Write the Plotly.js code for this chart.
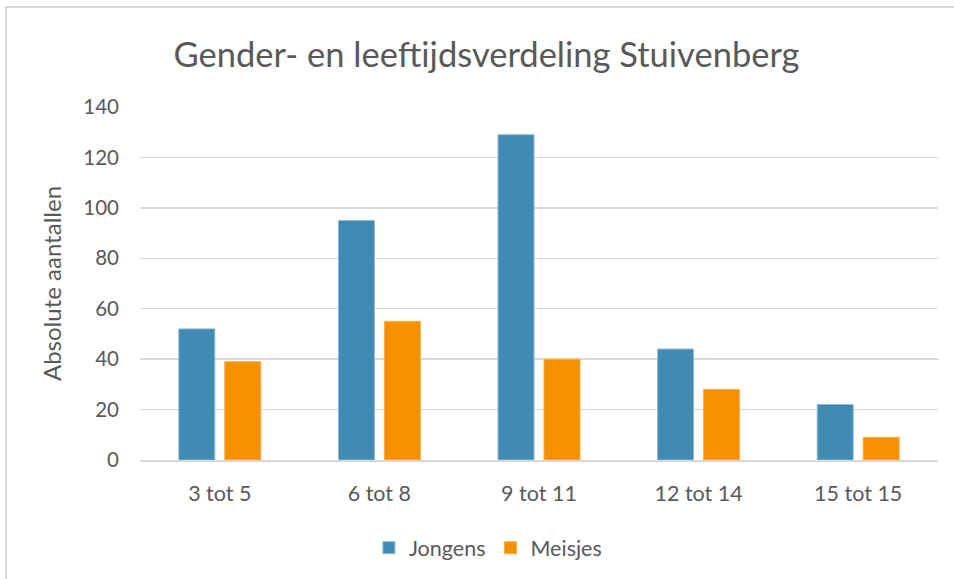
<!DOCTYPE html>
<html><head><meta charset="utf-8">
<script src="https://cdn.plot.ly/plotly-3.0.1.min.js"></script>
<style>html,body{margin:0;padding:0;background:#fff;}#frame{position:absolute;left:5px;top:6px;width:960px;height:600px;border-top:2px solid #d9d9d9;border-left:2px solid #d9d9d9;pointer-events:none;z-index:5;}#chart{width:954px;height:579px;}</style>
</head><body>
<div id="chart"></div><div id="frame"></div>
<script>
const categories = ["3 tot 5", "6 tot 8", "9 tot 11", "12 tot 14", "15 tot 15"];
const jongens = [52, 95, 129, 44, 22];
const meisjes = [39, 55, 40, 28, 9];
const yTicks = [0, 20, 40, 60, 80, 100, 120, 140];

const font = "Lato, 'Open Sans', sans-serif";
const data = [
  {type: "bar", name: "Jongens", x: categories, y: jongens, marker: {color: "#418AB3", line: {color: "#8fb8d3", width: 1}}, hoverinfo: "y"},
  {type: "bar", name: "Meisjes", x: categories, y: meisjes, marker: {color: "#F59100", line: {color: "#f8b04a", width: 1}}, hoverinfo: "y"}
];
const layout = {
  width: 954, height: 579,
  margin: {l: 140, r: 16, t: 107, b: 118},
  paper_bgcolor: "#fff", plot_bgcolor: "#fff",
  font: {family: font, color: "#595959", size: 21},
  title: {text: "Gender- en leeftijdsverdeling Stuivenberg", font: {family: font, size: 34.5, color: "#595959"}, x: 0.51, xanchor: "center", y: 0.905, yanchor: "middle"},
  bargap: 0.424, bargroupgap: 0.217,
  xaxis: {showgrid: false, showline: true, linecolor: "#d9d9d9", linewidth: 1.5, ticks: "", ticklabelstandoff: 14, tickfont: {size: 21.5, color: "#595959"}},
  yaxis: {range: [0, 140], tickvals: yTicks, showgrid: true, gridcolor: "#d9d9d9", gridwidth: 1.5, zeroline: false, showline: false, ticks: "", ticklabelstandoff: 20, tickfont: {size: 20.5, color: "#595959"},
    title: {text: "Absolute aantallen", font: {size: 24, color: "#595959"}, standoff: 14}},
  legend: {orientation: "h", x: 0.436, xanchor: "center", y: -0.245, yanchor: "middle", font: {size: 21.5, color: "#595959"}, itemwidth: 30, traceorder: "normal"},
  showlegend: true
};
Plotly.newPlot("chart", data, layout, {displayModeBar: false, staticPlot: true});
</script>
</body></html>
